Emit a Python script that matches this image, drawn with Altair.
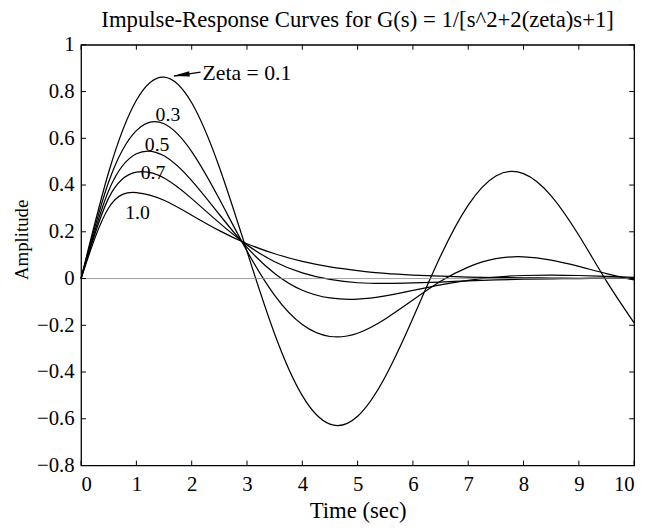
import altair as alt
import pandas as pd

# Sample times (sec)
t = [0, 0.5, 1, 1.5, 2, 2.5, 3, 3.5, 4, 4.5, 5, 5.5, 6, 6.5, 7, 7.5, 8, 8.5, 9, 9.5, 10]

# Impulse-response amplitudes for each damping ratio
zeta_01 = [0, 0.456, 0.763, 0.862, 0.752, 0.476, 0.116, -0.237, -0.501, -0.623, -0.589,
           -0.420, -0.170, 0.096, 0.314, 0.439, 0.449, 0.354, 0.185, -0.011, -0.190]
zeta_03 = [0, 0.414, 0.633, 0.662, 0.543, 0.340, 0.118, -0.072, -0.197, -0.248, -0.234,
           -0.173, -0.092, -0.012, 0.049, 0.085, 0.093, 0.079, 0.052, 0.021, -0.006]
zeta_05 = [0, 0.377, 0.534, 0.525, 0.419, 0.274, 0.133, 0.022, -0.050, -0.083, -0.088,
           -0.074, -0.051, -0.027, -0.008, 0.006, 0.013, 0.015, 0.013, 0.009, 0.005]
zeta_07 = [0, 0.345, 0.455, 0.430, 0.342, 0.238, 0.144, 0.072, 0.024, -0.004, -0.018,
           -0.021, -0.019, -0.015, -0.010, -0.006, -0.003, -0.001, 0.000, 0.001, 0.001]
zeta_10 = [0, 0.303, 0.368, 0.335, 0.271, 0.205, 0.149, 0.106, 0.073, 0.050, 0.034,
           0.022, 0.015, 0.010, 0.006, 0.004, 0.003, 0.002, 0.001, 0.001, 0.000]

zetas = ["0.1", "0.3", "0.5", "0.7", "1.0"]
series = [zeta_01, zeta_03, zeta_05, zeta_07, zeta_10]

x_ticks = [0, 1, 2, 3, 4, 5, 6, 7, 8, 9, 10]
y_ticks = [-0.8, -0.6, -0.4, -0.2, 0, 0.2, 0.4, 0.6, 0.8, 1]

curve_labels = ["Zeta = 0.1", "0.3", "0.5", "0.7", "1.0"]

FONT = "Liberation Serif"
W, H = 560, 426

rows = []
for z, vals in zip(zetas, series):
    for ti, v in zip(t, vals):
        rows.append({"t": ti, "amp": v, "zeta": z})
df = pd.DataFrame(rows)

xs = alt.Scale(domain=[0, 10], nice=False, zero=False)
ys = alt.Scale(domain=[-0.8, 1], nice=False, zero=False)

x_axis = alt.Axis(values=x_ticks, title="Time (sec)", format=".1~f", tickSize=0, ticks=False,
                  domain=False, grid=False, labelPadding=8, titlePadding=6,
                  titleFontSize=23, labelFontSize=21, labelFont=FONT, titleFont=FONT,
                  titleFontWeight="normal", labelColor="black", titleColor="black")
y_axis = alt.Axis(values=y_ticks, title="Amplitude", format=".1~f", tickSize=0, ticks=False,
                  domain=False, grid=False, labelPadding=7, titlePadding=5, titleY=197,
                  titleFontSize=19, labelFontSize=21, labelFont=FONT, titleFont=FONT,
                  titleFontWeight="normal", labelColor="black", titleColor="black")

X = lambda f: alt.X(f, scale=xs, axis=x_axis)
Y = lambda f: alt.Y(f, scale=ys, axis=y_axis)

lines = alt.Chart(df).mark_line(color="black", strokeWidth=1.25, interpolate="natural").encode(
    x=X("t:Q"), y=Y("amp:Q"), detail="zeta:N",
)

zero_df = pd.DataFrame({"v": [0]})
zero_line = alt.Chart(zero_df).mark_rule(color="#888", strokeWidth=0.8).encode(y=Y("v:Q"))

xt = pd.DataFrame({"v": x_ticks})
yt = pd.DataFrame({"v": y_ticks})
tick_bottom = alt.Chart(xt).mark_rule(color="black", strokeWidth=1).encode(
    x=X("v:Q"), y=alt.value(H), y2=alt.value(H - 5))
tick_top = alt.Chart(xt).mark_rule(color="black", strokeWidth=1).encode(
    x=X("v:Q"), y=alt.value(0), y2=alt.value(5))
tick_left = alt.Chart(yt).mark_rule(color="black", strokeWidth=1).encode(
    y=Y("v:Q"), x=alt.value(0), x2=alt.value(5))
tick_right = alt.Chart(yt).mark_rule(color="black", strokeWidth=1).encode(
    y=Y("v:Q"), x=alt.value(W), x2=alt.value(W - 5))

# curve labels (placement)
lab_df = pd.DataFrame({
    "label": curve_labels[1:],
    "x": [1.57, 1.375, 1.30, 1.02],
    "y": [0.699, 0.572, 0.450, 0.281],
})
labels = alt.Chart(lab_df).mark_text(font=FONT, fontSize=20, color="black",
                                      align="center", baseline="middle").encode(
    x=X("x:Q"), y=Y("y:Q"), text="label:N")

zeta_df = pd.DataFrame({"label": [curve_labels[0]], "x": [2.196], "y": [0.88]})
zeta_text = alt.Chart(zeta_df).mark_text(font=FONT, fontSize=22, color="black",
                                          align="left", baseline="middle").encode(
    x=X("x:Q"), y=Y("y:Q"), text="label:N")

arrow_df = pd.DataFrame({"x": [1.68], "y": [0.866], "x2": [2.16], "y2": [0.883]})
arrow_line = alt.Chart(arrow_df).mark_rule(color="black", strokeWidth=1.2).encode(
    x=X("x:Q"), y=Y("y:Q"), x2="x2:Q", y2="y2:Q")
head_df = pd.DataFrame({"x": [1.81], "y": [0.871]})
arrow_head = alt.Chart(head_df).mark_point(
    shape="M -1 0 L 1 -0.32 L 1 0.32 Z", filled=True, color="black", size=289,
    angle=352, opacity=1, strokeWidth=0).encode(x=X("x:Q"), y=Y("y:Q"))

chart = alt.layer(
    lines, zero_line, tick_bottom, tick_top, tick_left, tick_right,
    labels, zeta_text, arrow_line, arrow_head,
).properties(
    width=W, height=H,
    background="white",
    title=alt.TitleParams("Impulse-Response Curves for G(s) = 1/[s^2+2(zeta)s+1]",
                          font=FONT, fontSize=23, fontWeight="normal", color="black",
                          anchor="middle", frame="group", baseline="alphabetic",
                          offset=5, dy=21),
    padding={"left": 74, "top": 34, "right": 11, "bottom": 60},
    autosize="none",
).configure_view(
    stroke="black", strokeWidth=1.3
)

chart.save("out.html", embed_options={"renderer": "svg", "actions": False})
